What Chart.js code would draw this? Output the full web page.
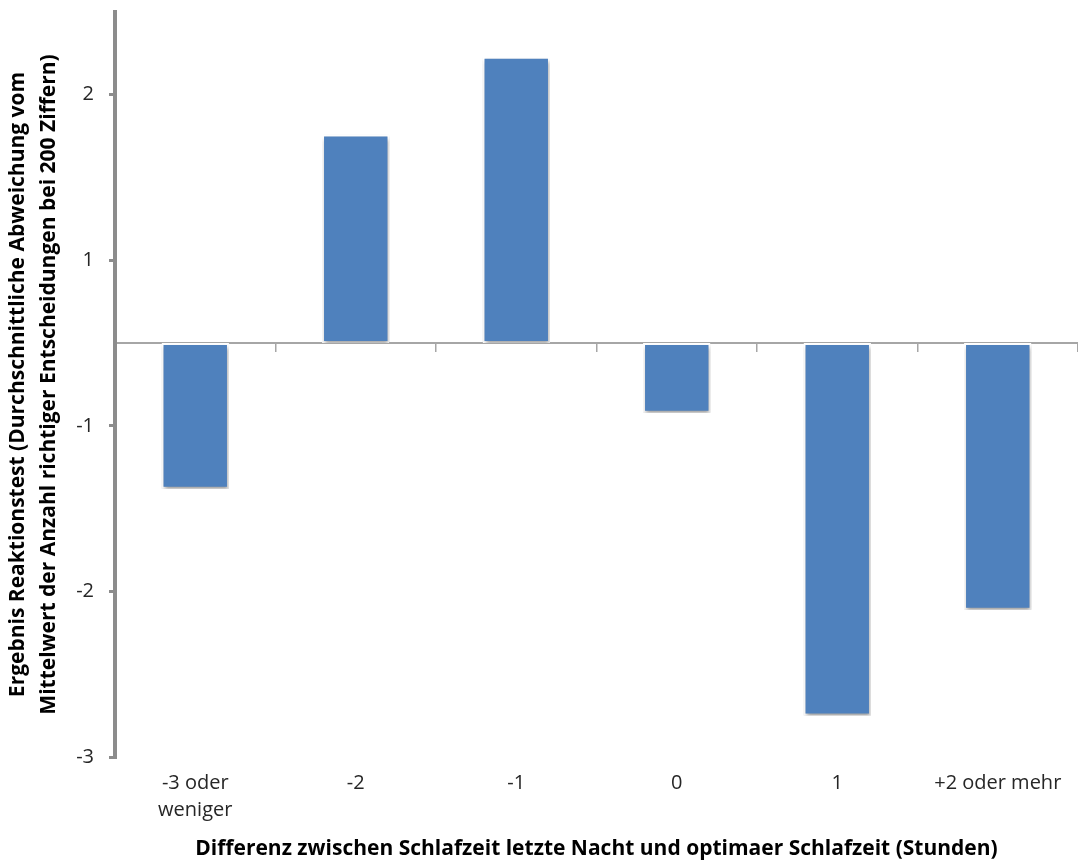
<!DOCTYPE html>
<html lang="de">
<head>
<meta charset="UTF-8" />
<title>Reaktionstest und Schlafzeit</title>
<script src="https://cdn.jsdelivr.net/npm/chart.js"></script>
<style>
  html, body { margin: 0; padding: 0; background: #fff; }
  #wrap { width: 1078px; height: 864px; }
</style>
</head>
<body>
<div id="wrap"><canvas id="chart"></canvas></div>
<script>
// categories (x) and mean deviation per group
const categories = [["-3 oder", "weniger"], "-2", "-1", "0", "1", "+2 oder mehr"];
const deviation = [-0.88, 1.26, 1.73, -0.42, -2.25, -1.61];

// y ticks: Excel showed values rounded to whole numbers
const yTickValues = [-2.5, -1.5, -0.5, 0.5, 1.5];
const yTickLabels = ["-3", "-2", "-1", "1", "2"];

const yTitle = ["Ergebnis Reaktionstest (Durchschnittliche Abweichung vom",
                "Mittelwert der Anzahl richtiger Entscheidungen bei 200 Ziffern)"];
const xTitle = "Differenz zwischen Schlafzeit letzte Nacht und optimaer Schlafzeit (Stunden)";

const FONT = "'Open Sans', sans-serif";
Chart.defaults.font.family = FONT;

// soft drop shadow under the bars, like the Excel original
const barShadow = {
  id: "barShadow",
  beforeDatasetsDraw(chart) {
    const c = chart.ctx;
    c.save();
    c.shadowColor = "rgba(0,0,0,0.35)";
    c.shadowBlur = 4;
    c.shadowOffsetX = 1;
    c.shadowOffsetY = 3;
  },
  afterDatasetsDraw(chart) {
    chart.ctx.restore();
  }
};

new Chart(document.getElementById("chart"), {
  type: "bar",
  data: {
    labels: categories,
    datasets: [{
      data: deviation,
      backgroundColor: "#4F81BD",
      borderColor: "#ffffff",
      borderWidth: 2,
      borderSkipped: false,
      barPercentage: 0.42,
      categoryPercentage: 1.0
    }]
  },
  options: {
    responsive: true,
    maintainAspectRatio: false,
    animation: false,
    layout: { padding: { top: 12, right: 0, bottom: 0, left: 0 } },
    plugins: {
      legend: { display: false },
      tooltip: { enabled: false }
    },
    scales: {
      x: {
        type: "category",
        position: { y: 0 },
        offset: true,
        grid: {
          offset: true,
          drawOnChartArea: false,
          drawTicks: true,
          tickLength: 8,
          color: "#a6a6a6",
          lineWidth: 1.5
        },
        border: { display: true, color: "#a6a6a6", width: 2 },
        ticks: { display: false }
      },
      x2: {
        type: "category",
        position: "bottom",
        offset: true,
        grid: { display: false },
        border: { display: false },
        ticks: {
          color: "#262626",
          font: { size: 20, lineHeight: 1.35 },
          padding: 5,
          maxRotation: 0,
          autoSkip: false
        },
        title: {
          display: true,
          text: xTitle,
          color: "#000",
          font: { size: 21, weight: "bold" },
          padding: { top: 2, bottom: 2 }
        },
        afterFit(scale) { scale.height = 107; }
      },
      y: {
        min: -2.5,
        max: 2.0,
        afterBuildTicks(scale) {
          scale.ticks = yTickValues.map(v => ({ value: v }));
        },
        grid: {
          drawOnChartArea: false,
          drawTicks: true,
          tickLength: 6,
          color: "#8c8c8c",
          lineWidth: 3
        },
        border: { display: true, color: "#8c8c8c", width: 4 },
        ticks: {
          color: "#262626",
          font: { size: 20 },
          padding: 15,
          callback: (v, i) => yTickLabels[i]
        },
        title: {
          display: true,
          text: yTitle,
          color: "#000",
          font: { size: 21, weight: "bold", lineHeight: 1.45 },
          padding: { top: 3, bottom: 0 }
        },
        afterFit(scale) {
          scale.width = 115;
          scale.paddingTop = 0;
          scale.paddingBottom = 0;
        }
      }
    }
  },
  plugins: [barShadow]
});
</script>
</body>
</html>
